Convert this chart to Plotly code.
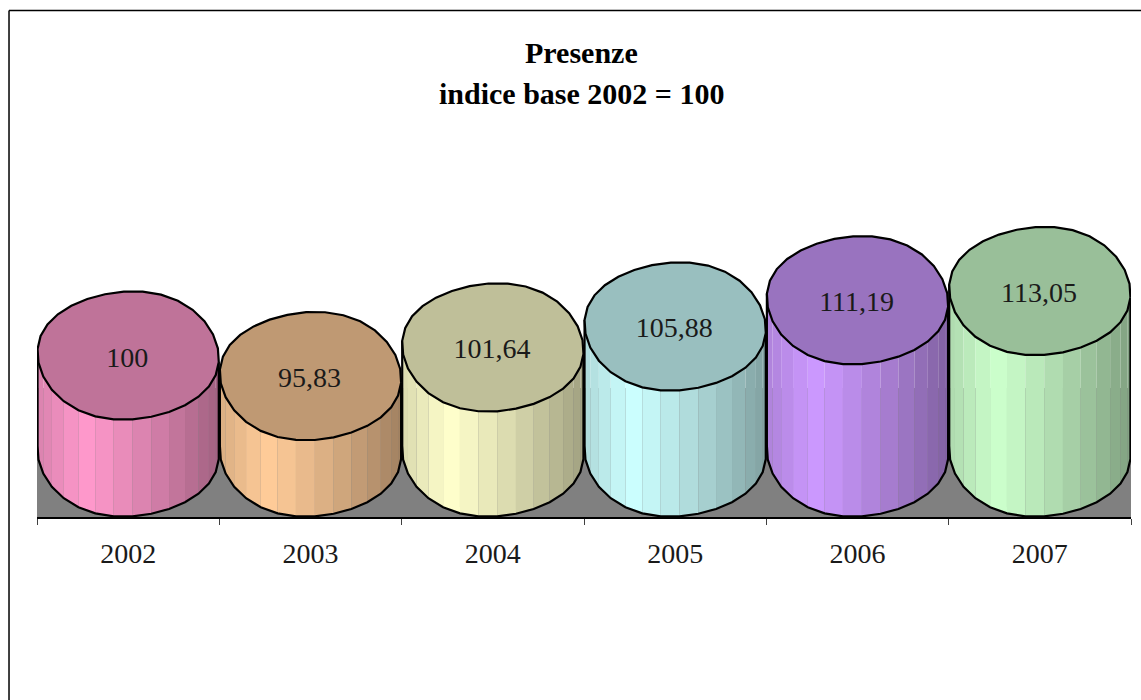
import numpy as np
import plotly.graph_objects as go

# --- data ---
years = ["2002", "2003", "2004", "2005", "2006", "2007"]
values = [100, 95.83, 101.64, 105.88, 111.19, 113.05]
side_colors = ["#FF99CC", "#FFCC99", "#FFFFCC", "#CCFFFF", "#CC99FF", "#CCFFCC"]
title_lines = ["Presenze", "indice base 2002 = 100"]

# --- geometry of the drawing, in axis units ---
W, H = 1141, 700
LEFT, RIGHT, TOP, AXIS_Y = 36.5, 1131, 10, 517
UNITS_PER_PX = 1 / 4.94
Y_MIN = 100 - (AXIS_Y - 355.5) * UNITS_PER_PX
Y_MAX = 100 + (355.5 - TOP) * UNITS_PER_PX
BASE = 100 - (452.5 - 355.5) * UNITS_PER_PX
FLOOR_TOP = 100 - (388 - 355.5) * UNITS_PER_PX
LABEL_DROP = 4 * UNITS_PER_PX
A, P = 0.497, 0.028          # half width, skew of the disc
B, K, C = 13.0, 1.0, 0.33    # half height, tilt and harmonic of the disc
SEG = 15
FONT = "Liberation Serif"
INK = "#1a1a1a"


def disc(cx, cy, t):
    return (cx + A * np.cos(t) + P * np.sin(t),
            cy + B * np.sin(t) - K * np.cos(t) - C * np.cos(3 * t))


def shade(u):
    if u < 0.25:
        return 0.85 + 0.15 * u / 0.25
    return 1 - 0.37 * ((u - 0.25) / 0.75) ** 1.2


def scale(hexcol, f):
    r, g, b = (int(hexcol[i:i + 2], 16) for i in (1, 3, 5))
    return f"rgb({r * f:.0f},{g * f:.0f},{b * f:.0f})"


fig = go.Figure()


def poly(x, y, fill=None, line=None, width=0):
    fig.add_trace(go.Scatter(
        x=list(x), y=list(y), mode="lines", hoverinfo="skip", showlegend=False,
        fill="toself" if fill else "none", fillcolor=fill,
        line=dict(color=line or "rgba(0,0,0,0)", width=width)))


# floor of the 3D box: it runs up behind the cylinders and shows through their seams
poly([-0.5, 5.5, 5.5, -0.5, -0.5], [Y_MIN, Y_MIN, FLOOR_TOP, FLOOR_TOP, Y_MIN], fill="#808080")

ring = np.linspace(0, 2 * np.pi, 2 * SEG + 1)
lower = np.linspace(np.pi, 2 * np.pi, SEG + 1)

for i, v in enumerate(values):
    xt, yt = disc(i, v, lower)
    xb, yb = disc(i, BASE, lower)
    for j in range(SEG):
        u = ((xt[j] + xt[j + 1]) / 2 - (i - A)) / (2 * A)
        poly([xt[j], xt[j + 1], xb[j + 1], xb[j], xt[j]],
             [yt[j], yt[j + 1], yb[j + 1], yb[j], yt[j]],
             fill=scale(side_colors[i], shade(u)))
    poly(np.r_[xt[0], xb, xt[-1]], np.r_[yt[0], yb, yt[-1]], line="#000000", width=2.2)
    xr, yr = disc(i, v, ring)
    poly(xr, yr, fill=scale(side_colors[i], 0.75), line="#000000", width=2.2)

fig.add_trace(go.Scatter(
    x=[k - 0.005 for k in range(len(values))], y=[v - LABEL_DROP for v in values],
    mode="text", hoverinfo="skip", showlegend=False,
    text=[f"{v:g}".replace(".", ",") for v in values],
    textposition="middle center", textfont=dict(family=FONT, size=28, color=INK)))


def px_x(p):
    return (p - LEFT) / (RIGHT - LEFT)


def px_y(p):
    return (AXIS_Y - p) / (AXIS_Y - TOP)


for text, py in zip(title_lines, (53, 94)):
    fig.add_annotation(x=px_x(581), y=px_y(py), xref="paper", yref="paper", text=f"<b>{text}</b>",
                       showarrow=False, xanchor="center", yanchor="middle",
                       font=dict(family=FONT, size=30, color="#000000"))

# outer frame of the picture, open to the right and bottom
frame = dict(type="line", xref="paper", yref="paper", line=dict(color="#000000", width=1.5))
fig.add_shape(x0=px_x(8.5), x1=px_x(W + 5), y0=px_y(10.5), y1=px_y(10.5), **frame)
fig.add_shape(x0=px_x(8.5), x1=px_x(8.5), y0=px_y(10.5), y1=px_y(H + 5), **frame)

fig.update_layout(
    width=W, height=H, paper_bgcolor="white", plot_bgcolor="white",
    margin=dict(l=LEFT, r=W - RIGHT, t=TOP, b=H - AXIS_Y, autoexpand=False),
    showlegend=False,
    xaxis=dict(range=[-0.5, 5.5], showgrid=False, zeroline=False, showline=True,
               linecolor="#000000", linewidth=1.5,
               tickmode="array", tickvals=list(range(len(years))), ticktext=years,
               ticks="outside", ticklen=11, tickcolor="rgba(0,0,0,0)",
               tickfont=dict(family=FONT, size=28, color=INK),
               minor=dict(tickmode="array", tickvals=[k - 0.5 for k in range(len(years) + 1)],
                          ticks="outside", ticklen=6, tickcolor="#404040", tickwidth=1, showgrid=False)),
    yaxis=dict(range=[Y_MIN, Y_MAX], visible=False),
)

fig.write_html("out.html", config=dict(displayModeBar=False),
               post_script="document.body.style.margin='0';")
